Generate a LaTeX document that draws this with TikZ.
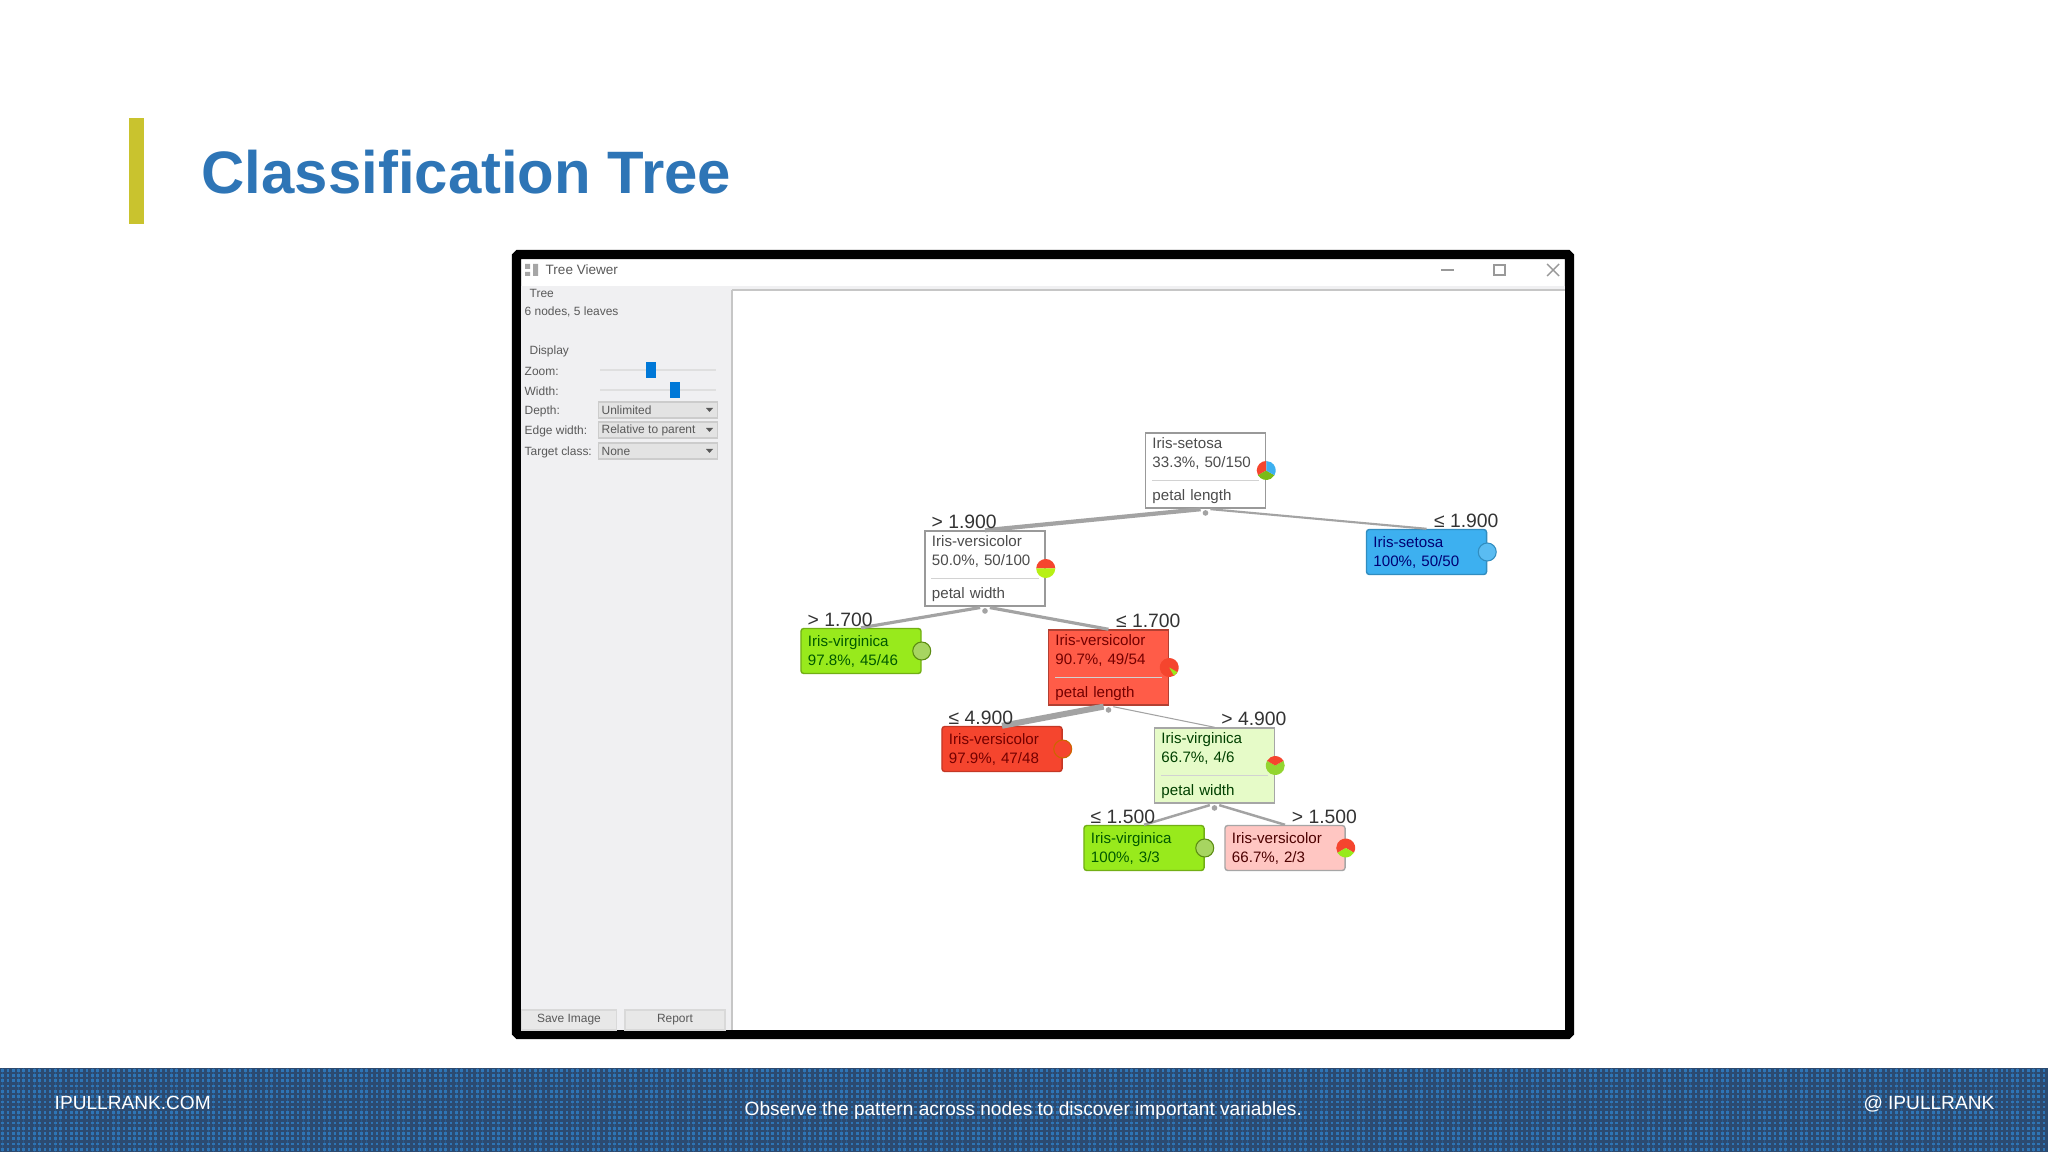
\documentclass[tikz,border=0pt]{standalone}
\usepackage{fontspec}
\setmainfont{Liberation Sans}
\usepackage{xcolor}
\usepackage{tikz}
\usetikzlibrary{calc}
\usetikzlibrary{patterns.meta}
\definecolor{titleblue}{HTML}{2E75B6}
\definecolor{barbrown}{HTML}{C9C32E}
\definecolor{footdark}{HTML}{2C4A70}
\definecolor{panelgray}{HTML}{F0F0F2}
\definecolor{edgegray}{HTML}{A3A3A3}
\definecolor{irisblue}{HTML}{3DB0F0}
\definecolor{irisgreen}{HTML}{98EA1C}
\definecolor{irisred}{HTML}{F5452E}
\definecolor{irisorange}{HTML}{FF5C48}
\definecolor{irispale}{HTML}{E6FBC8}
\definecolor{irispink}{HTML}{FFC6C2}
\definecolor{handleblue}{HTML}{0078D7}
\newcommand{\pieslice}[4]{\fill[#4] (#1) -- +(#2:.095cm) arc (#2:#3:.095cm) -- cycle;}
\tikzset{
	treebox/.style={draw=gray!80,line width=.4pt,inner xsep=.07cm,inner ysep=0pt,text width=1.06cm,minimum height=.75cm,align=left,font=\fontsize{4.3}{5.4}\selectfont,text=black!70},
	leafbox/.style={treebox,rounded corners=.8pt,minimum height=.45cm},
	edgeline/.style={edgegray,shorten <=1.4pt},
	edgemark/.style={edgegray},
	tagleft/.style={anchor=base west,inner sep=0pt,xshift=1.9pt,yshift=.5pt,font=\fontsize{5.5}{6}\selectfont,text=black!80},
	tagright/.style={anchor=base east,inner sep=0pt,xshift=3.4pt,yshift=.5pt,font=\fontsize{5.5}{6}\selectfont,text=black!80},
	paneltext/.style={anchor=west,inner sep=0pt,font=\fontsize{3.4}{4}\selectfont,text=black!65},
	combobox/.style={draw=gray!40,fill=gray!22,anchor=west,inner sep=0pt,minimum width=1.19cm,minimum height=.16cm},
	panelbutton/.style={draw=gray!30,fill=gray!18,inner sep=0pt,minimum height=.2cm,font=\fontsize{3.4}{4}\selectfont,text=black!65},
	sliderknob/.style={fill=handleblue,inner sep=0pt,minimum width=.1cm,minimum height=.16cm},
	sepline/.style={gray!35,line width=.3pt},
	foottext/.style={inner sep=0pt,text=white,font=\fontsize{5.43}{7}\selectfont},
}
\begin{document}
\begin{tikzpicture}[x=0.01cm,y=-0.01cm]
	\useasboundingbox (0,0) rectangle (2048,1152);
	% slide
	\fill[white] (0,0) rectangle (2048,1152);
	\fill[barbrown] (129,118) rectangle (144,224);
	\node[anchor=west,inner sep=0pt,text=titleblue,font=\fontsize{17.03}{20}\selectfont\bfseries] (slidetitle) at (201,172) {Classification Tree};
	% footer
	\fill[titleblue] (0,1068) rectangle (2048,1152);
	\fill[pattern={Hatch[distance=1.5pt,angle=0,line width=.75pt]},pattern color=footdark] (0,1068) rectangle (2048,1152);
	\node[foottext,anchor=west] (footleft) at (54,1103) {IPULLRANK.COM};
	\node[foottext,anchor=west] (footmid) at (744,1111) {Observe the pattern across nodes to discover important variables.};
	\node[foottext,anchor=east] (footright) at (1995,1104) {@ IPULLRANK};
	% window
	\draw[black,line width=2.6pt,rounded corners=.5pt,fill=white] (516.5,254.5) rectangle (1569.5,1034.5);
	\fill[panelgray] (521,286) rectangle (1565,1030);
	\fill[white] (732,290) rectangle (1565,1030);
	\draw[gray!45,line width=.4pt] (732,290) -- (732,1030) (732,290) -- (1565,290);
	\fill[gray!70] (525,264) rectangle (530,269) (533,264) rectangle (538,276) (525,272) rectangle (530,276);
	\node[anchor=west,inner sep=0pt,font=\fontsize{3.85}{5}\selectfont,text=black!65] (wintitle) at (545,270) {Tree Viewer};
	\draw[gray!80,line width=.3pt] (1441,270) -- (1454,270);
	\draw[gray!80,line width=.4pt] (1494,265) rectangle (1505,275);
	\draw[gray!80,line width=.4pt] (1547,264) -- (1559,276) (1559,264) -- (1547,276);
	% side panel
	\node[paneltext] (boxtree) at (529,293) {Tree};
	\node[paneltext] (treeinfo) at (524,312) {6 nodes, 5 leaves};
	\node[paneltext] (boxdisplay) at (529,351) {Display};
	\node[paneltext] (zoomlabel) at (524,371) {Zoom:};
	\node[paneltext] (widthlabel) at (524,391) {Width:};
	\node[paneltext] (depthlabel) at (524,411) {Depth:};
	\node[paneltext] (edgewlabel) at (524,431) {Edge width:};
	\node[paneltext] (targetlabel) at (524,452) {Target class:};
	\draw[gray!25,line width=.5pt] (600,370) -- (716,370) (600,390) -- (716,390);
	\node[sliderknob] (zoomknob) at (651,370) {};
	\node[sliderknob] (widthknob) at (675,390) {};
	\node[combobox] (depthbox) at (598,410) {};
	\node[combobox] (edgewbox) at (598,430) {};
	\node[combobox] (targetbox) at (598,451) {};
	\node[paneltext] (depthval) at (601,410) {Unlimited};
	\node[paneltext] (edgewval) at (601,430) {Relative to parent};
	\node[paneltext] (targetval) at (601,451) {None};
	\foreach \y in {410,430,451}
		\fill[black!65] (706,\y-2) -- (713,\y-2) -- (709.5,\y+2) -- cycle;
	\node[panelbutton,minimum width=.95cm] (savebtn) at (569,1020) {Save Image};
	\node[panelbutton,minimum width=1cm] (reportbtn) at (675,1020) {Report};
	% tree
	\node[treebox] (rootn) at (1205.5,470.5) {Iris-setosa\\33.3\%, 50/150\\[4pt]petal length};
	\node[treebox] (versn) at (985,568.5) {Iris-versicolor\\50.0\%, 50/100\\[4pt]petal width};
	\node[leafbox,fill=irisblue,draw=irisblue!80!black,text=blue!45!black] (setosaleaf) at (1426.5,552) {Iris-setosa\\100\%, 50/50};
	\node[leafbox,fill=irisgreen,draw=irisgreen!75!black,text=green!35!black] (virgleaf) at (861,651) {Iris-virginica\\97.8\%, 45/46};
	\node[treebox,fill=irisorange,draw=irisorange!70!black,text=red!45!black] (lengthn) at (1108.5,667.5) {Iris-versicolor\\90.7\%, 49/54\\[4pt]petal length};
	\node[leafbox,fill=irisred,draw=irisred!80!black,text=red!45!black] (versleaf) at (1002,749) {Iris-versicolor\\97.9\%, 47/48};
	\node[treebox,fill=irispale,draw=gray!70,text=green!25!black] (widthn) at (1214.5,765.5) {Iris-virginica\\66.7\%, 4/6\\[4pt]petal width};
	\node[leafbox,fill=irisgreen,draw=irisgreen!75!black,text=green!35!black] (smallvirg) at (1144,848) {Iris-virginica\\100\%, 3/3};
	\node[leafbox,fill=irispink,draw=gray!70,text=red!30!black] (smallvers) at (1285,848) {Iris-versicolor\\66.7\%, 2/3};
	\foreach \n in {rootn,versn,lengthn,widthn}
		\draw[sepline] ([xshift=.07cm,yshift=-.1cm]\n.west) -- ([xshift=-.07cm,yshift=-.1cm]\n.east);
	% edges
	\draw[edgeline,line width=1.2pt] (rootn.south) -- (versn.north);
	\draw[edgeline,line width=.6pt] (rootn.south) -- (setosaleaf.north);
	\draw[edgeline,line width=.9pt] (versn.south) -- (virgleaf.north);
	\draw[edgeline,line width=.9pt] (versn.south) -- (lengthn.north);
	\draw[edgeline,line width=1.7pt] (lengthn.south) -- (versleaf.north);
	\draw[edgeline,line width=.3pt] (lengthn.south) -- (widthn.north);
	\draw[edgeline,line width=.7pt] (widthn.south) -- (smallvirg.north);
	\draw[edgeline,line width=.7pt] (widthn.south) -- (smallvers.north);
	\foreach \n in {rootn,versn,lengthn,widthn}
		\fill[edgemark] ([yshift=-1.2pt]\n.south) circle (.8pt);
	% edge labels
	\node[tagleft] (gtroot) at (versn.north west) {> 1.900};
	\node[tagright] (leroot) at (setosaleaf.north east) {≤ 1.900};
	\node[tagleft] (gtvers) at (virgleaf.north west) {> 1.700};
	\node[tagright] (levers) at (lengthn.north east) {≤ 1.700};
	\node[tagleft] (lelength) at (versleaf.north west) {≤ 4.900};
	\node[tagright] (gtlength) at (widthn.north east) {> 4.900};
	\node[tagleft] (lewidth) at (smallvirg.north west) {≤ 1.500};
	\node[tagright] (gtwidth) at (smallvers.north east) {> 1.500};
	% pies
	\pieslice{rootn.east}{90}{210}{irisred}
	\pieslice{rootn.east}{210}{330}{irisgreen!80!black}
	\pieslice{rootn.east}{330}{450}{irisblue}
	\pieslice{versn.east}{0}{180}{irisred}
	\pieslice{versn.east}{180}{360}{irisgreen!70!yellow}
	\draw[fill=irisblue!85!white,draw=irisblue!80!black,line width=.3pt] (setosaleaf.east) circle (.09cm);
	\draw[fill=irisgreen!70!gray!80!white,draw=irisgreen!60!black,line width=.3pt] (virgleaf.east) circle (.09cm);
	\pieslice{lengthn.east}{-60}{300}{irisred}
	\pieslice{lengthn.east}{-60}{-30}{irisgreen}
	\draw[fill=irisred,draw=orange!80!black,line width=.3pt] (versleaf.east) circle (.09cm);
	\pieslice{widthn.east}{150}{390}{irisgreen!80!gray}
	\pieslice{widthn.east}{30}{150}{irisred}
	\draw[fill=irisgreen!70!gray!80!white,draw=irisgreen!60!black,line width=.3pt] (smallvirg.east) circle (.09cm);
	\pieslice{smallvers.east}{-30}{210}{irisred}
	\pieslice{smallvers.east}{210}{330}{irisgreen}
\end{tikzpicture}
\end{document}
